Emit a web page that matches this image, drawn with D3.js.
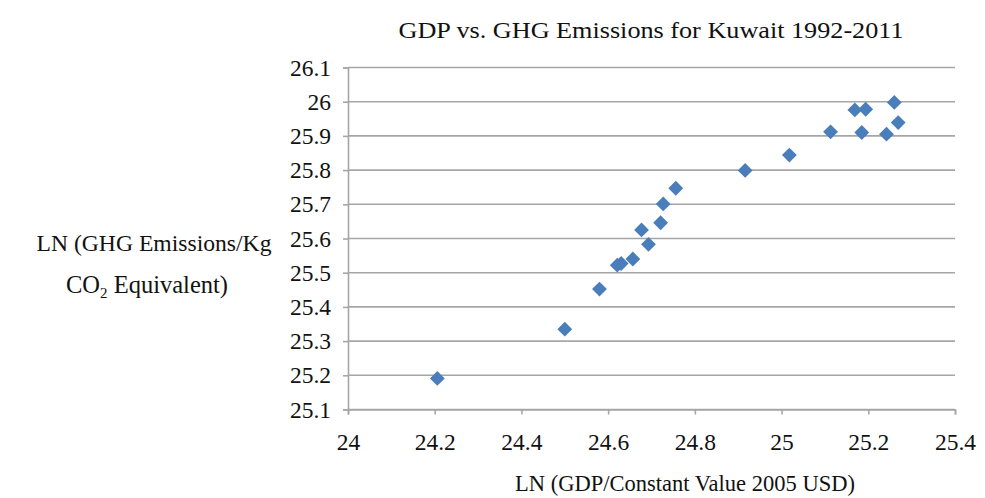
<!DOCTYPE html>
<html><head><meta charset="utf-8">
<script src="https://cdn.jsdelivr.net/npm/d3@7"></script>
<style>body{margin:0;background:#fff} svg text{font-family:'Liberation Serif','Times New Roman',serif !important;}</style>
</head><body>
<svg id="c" width="985" height="498"></svg>
<script>
const title = "GDP vs. GHG Emissions for Kuwait 1992-2011";
const xLabel = "LN (GDP/Constant Value 2005 USD)";
const yLabel1 = "LN (GHG Emissions/Kg";
const yLabel2a = "CO";
const yLabel2sub = "2";
const yLabel2b = " Equivalent)";
const gdp = [24.206, 24.500, 24.580, 24.621, 24.630, 24.657, 24.677, 24.693, 24.721, 24.727, 24.756, 24.916, 25.018, 25.113, 25.169, 25.185, 25.194, 25.242, 25.260, 25.269];
const ghg = [25.191, 25.335, 25.452, 25.522, 25.527, 25.540, 25.625, 25.583, 25.646, 25.701, 25.747, 25.799, 25.844, 25.912, 25.976, 25.910, 25.978, 25.905, 25.998, 25.939];
const xTicks = [24, 24.2, 24.4, 24.6, 24.8, 25, 25.2, 25.4];
const yTicks = [25.1, 25.2, 25.3, 25.4, 25.5, 25.6, 25.7, 25.8, 25.9, 26, 26.1];

const svg = d3.select("#c");
const font = "'Liberation Serif','Times New Roman',serif";
const x = d3.scaleLinear().domain([24, 25.4]).range([348, 955]);
const y = d3.scaleLinear().domain([25.1, 26.1]).range([409.5, 67.5]);
const grid = "#a6a6a6";

// gridlines
svg.append("g").selectAll("line").data(yTicks).join("line")
  .attr("x1", x(24)).attr("x2", x(25.4))
  .attr("y1", d => y(d)).attr("y2", d => y(d))
  .attr("stroke", grid).attr("stroke-width", 1.6);

// axes
const fmt = d => d3.format("")(+d.toFixed(1));
const yAxis = svg.append("g").attr("transform", `translate(${x(24)},0)`)
  .call(d3.axisLeft(y).tickValues(yTicks).tickFormat(fmt).tickSize(5).tickPadding(12));
const xAxis = svg.append("g").attr("transform", `translate(0,${y(25.1)})`)
  .call(d3.axisBottom(x).tickValues(xTicks).tickFormat(fmt).tickSize(5).tickPadding(14));
[yAxis, xAxis].forEach(a => {
  a.attr("font-family", font).attr("font-size", 23.5);
  a.select(".domain").attr("stroke", grid).attr("stroke-width", 1.6);
  a.selectAll(".tick line").attr("stroke", grid).attr("stroke-width", 1.6);
  a.selectAll("text").style("font-family", font).attr("font-size", 23.5).attr("fill", "#111");
});
xAxis.selectAll(".tick text").attr("dy", "0.9em");

// points
svg.append("g").selectAll("path").data(gdp.map((g, i) => [g, ghg[i]])).join("path")
  .attr("d", d3.symbol().type(d3.symbolSquare).size(110))
  .attr("transform", d => `translate(${x(d[0])},${y(d[1])}) rotate(45)`)
  .attr("fill", "#4a7ebb");

// title & labels
svg.append("text").attr("x", 651).attr("y", 38).attr("text-anchor", "middle")
  .attr("font-family", font).attr("font-size", 23).attr("fill", "#111")
  .attr("textLength", 505).attr("lengthAdjust", "spacingAndGlyphs").text(title);
svg.append("text").attr("x", 685).attr("y", 491).attr("text-anchor", "middle")
  .attr("font-family", font).attr("font-size", 22.5).attr("fill", "#111")
  .attr("textLength", 340).attr("lengthAdjust", "spacingAndGlyphs").text(xLabel);
svg.append("text").attr("x", 154).attr("y", 251).attr("text-anchor", "middle")
  .attr("font-family", font).attr("font-size", 23).attr("fill", "#111")
  .attr("textLength", 235).attr("lengthAdjust", "spacingAndGlyphs").text(yLabel1);
const t2 = svg.append("text").attr("x", 147).attr("y", 293).attr("text-anchor", "middle")
  .attr("font-family", font).attr("font-size", 24.5).attr("fill", "#111");
t2.append("tspan").text(yLabel2a);
t2.append("tspan").attr("font-size", 15).attr("dy", 5).text(yLabel2sub);
t2.append("tspan").attr("dy", -5).text(yLabel2b);
</script>
</body></html>
